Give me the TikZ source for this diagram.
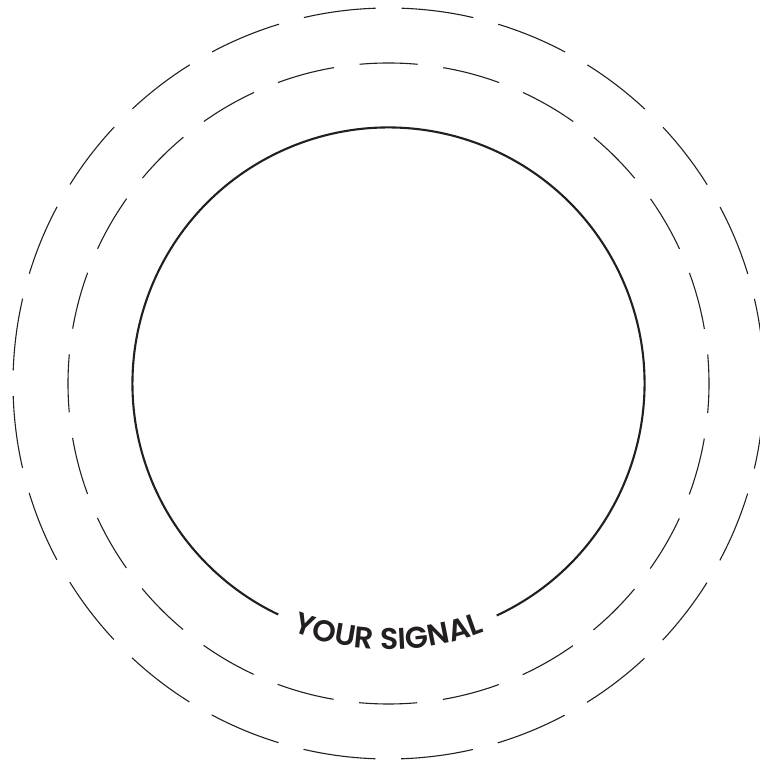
\documentclass[tikz,border=0pt]{standalone}
\usepackage{fontspec}
\usepackage{xcolor}
\usetikzlibrary{decorations.text}
\newfontfamily\signalfont{Poppins}[BoldFont={Poppins SemiBold}]
\definecolor{ringInk}{HTML}{231F20}

\begin{document}
\begin{tikzpicture}[x=1pt,y=1pt,
    signalRing/.style={draw=ringInk,line width=2.1pt},
    nearRing/.style={draw=ringInk,line width=1.1pt,dash pattern=on 58pt off 25.9pt,dash phase=29pt},
    farRing/.style={draw=ringInk,line width=1.1pt,dash pattern=on 72.5pt off 25.8pt,dash phase=85.4pt}]
    \useasboundingbox (0,0) rectangle (759,767);
    \coordinate (centre) at (388.5,383.5);
    % rings
    \draw[farRing] (centre) circle[radius=375.5pt];
    \draw[nearRing] (centre) circle[radius=320.5pt];
    \draw[signalRing] (centre) ++(-65:256pt) arc[start angle=-65,end angle=244.5,radius=256pt];
    % label along the bottom of the ring
    \path[decorate,decoration={text along path,text align=center,text color=ringInk,
        text={|\signalfont\bfseries\fontsize{30}{30}\selectfont|YOUR SIGNAL}}]
      (centre) ++(225:266pt) arc[start angle=225,end angle=315,radius=266pt];
\end{tikzpicture}
\end{document}
